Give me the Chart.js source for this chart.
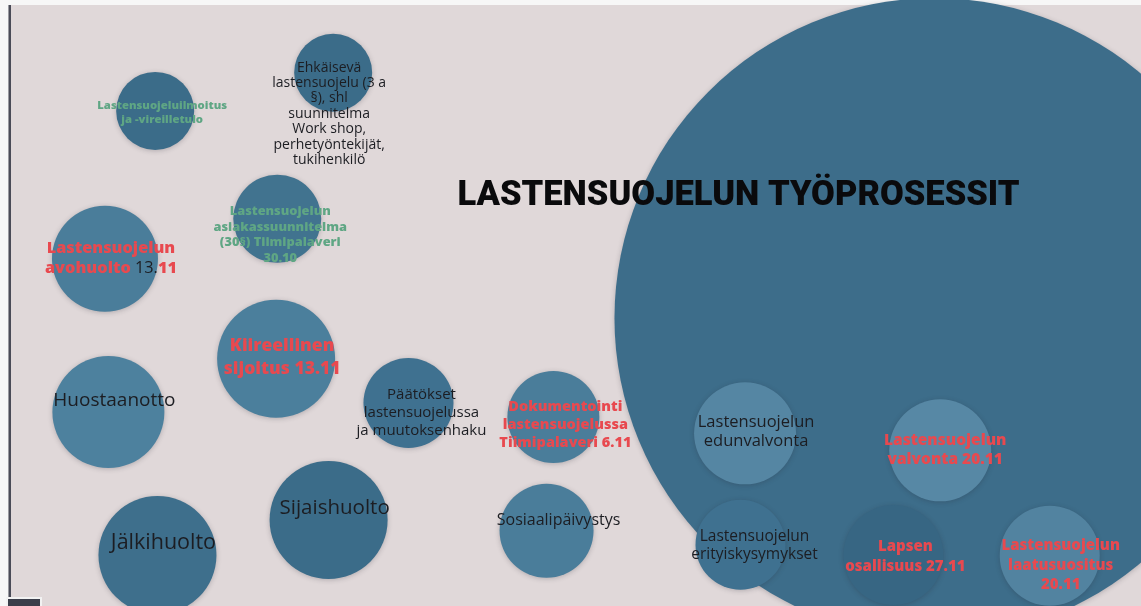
<!DOCTYPE html>
<html>
<head>
<meta charset="utf-8">
<script src="https://cdn.jsdelivr.net/npm/chart.js@4/dist/chart.umd.min.js"></script>
<style>
  html, body { margin: 0; padding: 0; background: #fff; overflow: hidden; }
  #processChart { display: block; }
</style>
</head>
<body>
<canvas id="processChart" width="1141" height="606"></canvas>
<script>
// process bubbles: position on a 0-100 board, radius in px (Chart.js bubble r)
const names = [
  'Lastensuojelun työprosessit',
  'Lastensuojeluilmoitus ja -vireilletulo',
  'Ehkäisevä lastensuojelu',
  'Lastensuojelun asiakassuunnitelma',
  'Lastensuojelun avohuolto',
  'Kiireellinen sijoitus',
  'Huostaanotto',
  'Päätökset lastensuojelussa',
  'Dokumentointi lastensuojelussa',
  'Sijaishuolto',
  'Jälkihuolto',
  'Sosiaalipäivystys',
  'Lastensuojelun edunvalvonta',
  'Lastensuojelun valvonta',
  'Lastensuojelun erityiskysymykset',
  'Lapsen osallisuus',
  'Lastensuojelun laatusuositus'
];
const xValues = [81.9, 13.6, 29.2, 24.3, 9.2, 24.2, 9.5, 35.8, 48.5, 28.8, 13.8, 47.9, 65.3, 82.4, 64.9, 78.3, 92.0];
const yValues = [52.5, 18.3, 12.0, 36.1, 42.7, 59.2, 68.0, 66.5, 68.8, 85.8, 91.6, 87.6, 71.5, 74.3, 89.9, 91.6, 91.7];
const sizes   = [320, 39, 39, 44, 53, 59, 56, 45, 46, 59, 59, 47, 51, 51, 45, 50, 50];

const fills = [
  '#3d6d8a', '#3b6c89', '#3b6c89', '#41738f', '#4a7d9a', '#4b7f9c', '#4d819e', '#3f7190',
  '#4a7d9a', '#3b6c89', '#3e6f8c', '#4a7d9a', '#5586a3', '#5788a5', '#3f7190', '#376683', '#5283a0'
];

// label text per bubble: lines of [text, kind] segments
const labelText = [
  [[['LASTENSUOJELUN TYÖPROSESSIT', 't']]],
  [[['Lastensuojeluilmoitus', 'g']], [['ja -vireilletulo', 'g']]],
  [[['Ehkäisevä', 'n']], [['lastensuojelu (3 a', 'n']], [['§), shl', 'n']], [['suunnitelma', 'n']],
   [['Work shop,', 'n']], [['perhetyöntekijät,', 'n']], [['tukihenkilö', 'n']]],
  [[['Lastensuojelun', 'g']], [['asiakassuunnitelma', 'g']], [['(30§) Tiimipalaveri', 'g']], [['30.10', 'g']]],
  [[['Lastensuojelun', 'r']], [['avohuolto ', 'r'], ['13.', 'n'], ['11', 'r']]],
  [[['Kiireellinen', 'r']], [['sijoitus 13.11', 'r']]],
  [[['Huostaanotto', 'n']]],
  [[['Päätökset', 'n']], [['lastensuojelussa', 'n']], [['ja muutoksenhaku', 'n']]],
  [[['Dokumentointi', 'r']], [['lastensuojelussa', 'r']], [['Tiimipalaveri 6.11', 'r']]],
  [[['Sijaishuolto', 'n']]],
  [[['Jälkihuolto', 'n']]],
  [[['Sosiaalipäivystys', 'n']]],
  [[['Lastensuojelun', 'n']], [['edunvalvonta', 'n']]],
  [[['Lastensuojelun', 'r']], [['valvonta 20.11', 'r']]],
  [[['Lastensuojelun', 'n']], [['erityiskysymykset', 'n']]],
  [[['Lapsen', 'r']], [['osallisuus 27.11', 'r']]],
  [[['Lastensuojelun', 'r']], [['laatusuositus', 'r']], [['20.11', 'r']]]
];

// label placement relative to bubble centre: [dx, dy, font px, line height]
const labelPlace = [
  [-196, -122, 34.5, 36],
  [7, 2, 11.3, 14],
  [-4, 41, 14, 15.4],
  [3, 16, 12.8, 15.5],
  [6, 0, 16.3, 20],
  [6, -1, 17.5, 23],
  [6, -11, 19, 20],
  [13, 10, 15, 18],
  [12, 8, 14.5, 18],
  [6, -12, 20.5, 20],
  [6, -12, 21.5, 20],
  [12, -10, 16, 16],
  [11, -1, 16.5, 19],
  [5, 0, 15.5, 19.5],
  [14, 1, 15.5, 18],
  [12, 2, 15, 20],
  [11, 10, 15, 19.5]
];

const kindStyle = {
  n: { weight: '400', color: '#1c1d22', family: '"Open Sans", sans-serif' },
  r: { weight: '800', color: '#e8494f', family: '"Open Sans", sans-serif' },
  g: { weight: '800', color: '#5fa684', family: '"Open Sans", sans-serif' },
  t: { weight: '900', color: '#0a0a0c', family: 'Roboto, sans-serif' }
};

const slideBackground = {
  id: 'slideBackground',
  beforeDraw(chart) {
    const ctx = chart.ctx;
    const w = chart.width, h = chart.height;
    ctx.save();
    ctx.fillStyle = '#e0d8d9';
    ctx.fillRect(0, 0, w, h);
    ctx.fillStyle = '#f7f7f7';
    ctx.fillRect(0, 0, w, 5);
    ctx.fillRect(0, 0, 8, h);
    ctx.fillStyle = '#9a9aa0';
    ctx.fillRect(8, 5, 1, h);
    ctx.fillStyle = '#4a4b57';
    ctx.fillRect(9, 5, 2, h);
    ctx.restore();
  },
  beforeDatasetsDraw(chart) {
    const ctx = chart.ctx;
    ctx.save();
    ctx.shadowColor = 'rgba(40, 40, 50, 0.25)';
    ctx.shadowBlur = 5;
    ctx.shadowOffsetY = 1;
  },
  afterDatasetsDraw(chart) {
    chart.ctx.restore();
  },
  afterDraw(chart) {
    const ctx = chart.ctx;
    ctx.save();
    ctx.fillStyle = '#f2f2f2';
    ctx.fillRect(6, 597, 36, 9);
    ctx.fillStyle = '#3b3e4a';
    ctx.fillRect(8, 599, 32, 7);
    ctx.restore();
  }
};

const bubbleLabels = {
  id: 'bubbleLabels',
  afterDatasetsDraw(chart) {
    const ctx = chart.ctx;
    const meta = chart.getDatasetMeta(0);
    ctx.save();
    ctx.textBaseline = 'middle';
    ctx.textAlign = 'left';
    meta.data.forEach((el, i) => {
      const [dx, dy, size, lh] = labelPlace[i];
      const lines = labelText[i];
      const cx = el.x + dx;
      const top = el.y + dy - (lines.length - 1) * lh / 2;
      lines.forEach((segs, j) => {
        let total = 0;
        const widths = segs.map(([txt, kind]) => {
          const s = kindStyle[kind];
          ctx.font = `${s.weight} ${size}px ${s.family}`;
          const wd = ctx.measureText(txt).width;
          total += wd;
          return wd;
        });
        let x = cx - total / 2;
        segs.forEach(([txt, kind], k) => {
          const s = kindStyle[kind];
          ctx.font = `${s.weight} ${size}px ${s.family}`;
          ctx.fillStyle = s.color;
          ctx.fillText(txt, x, top + j * lh);
          x += widths[k];
        });
      });
    });
    ctx.restore();
  }
};

const ctx = document.getElementById('processChart').getContext('2d');
new Chart(ctx, {
  type: 'bubble',
  data: {
    labels: names,
    datasets: [
      {
        label: 'Lastensuojelun työprosessit',
        data: names.map((n, i) => ({ x: xValues[i], y: yValues[i], r: sizes[i] })),
        backgroundColor: fills,
        borderWidth: 0,
        clip: false
      }
    ]
  },
  options: {
    responsive: false,
    animation: false,
    events: [],
    layout: { padding: 0, autoPadding: false },
    scales: {
      x: { type: 'linear', min: 0, max: 100, display: false },
      y: { type: 'linear', min: 0, max: 100, reverse: true, display: false }
    },
    plugins: {
      legend: { display: false },
      tooltip: { enabled: false }
    }
  },
  plugins: [slideBackground, bubbleLabels]
});
</script>
</body>
</html>
